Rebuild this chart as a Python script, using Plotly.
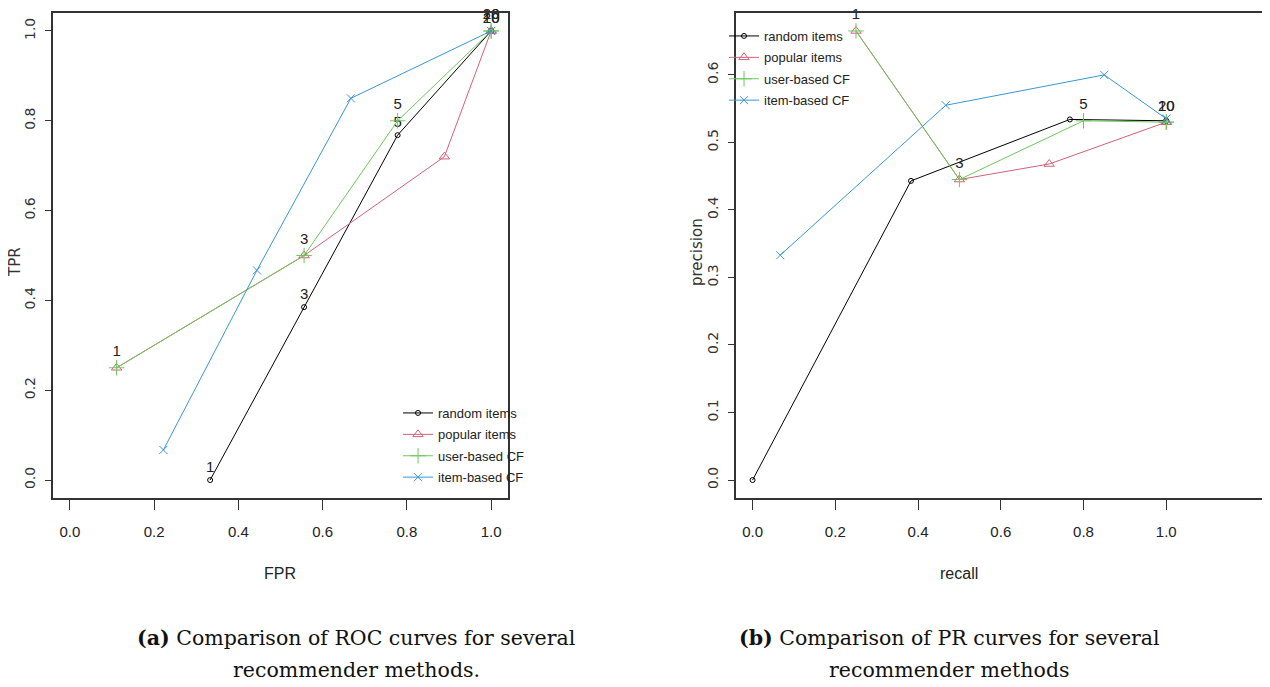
import plotly.graph_objects as go

# ---------------- data ----------------
series_names = ["random items", "popular items", "user-based CF", "item-based CF"]
n_labels = ["1", "3", "5", "10", "20"]

# ROC (left)
roc_random_fpr = [0.333, 0.556, 0.778, 1.0, 1.0]
roc_random_tpr = [0.0, 0.385, 0.768, 1.0, 1.0]
roc_popular_fpr = [0.111, 0.556, 0.889, 1.0, 1.0]
roc_popular_tpr = [0.25, 0.5, 0.72, 1.0, 1.0]
roc_user_fpr = [0.111, 0.556, 0.778, 1.0, 1.0]
roc_user_tpr = [0.25, 0.5, 0.8, 1.0, 1.0]
roc_item_fpr = [0.222, 0.444, 0.667, 1.0, 1.0]
roc_item_tpr = [0.067, 0.467, 0.85, 1.0, 1.0]

# PR (right)
pr_random_recall = [0.0, 0.383, 0.767, 1.0, 1.0]
pr_random_precision = [0.0, 0.443, 0.534, 0.532, 0.532]
pr_popular_recall = [0.25, 0.5, 0.717, 1.0, 1.0]
pr_popular_precision = [0.665, 0.445, 0.468, 0.53, 0.53]
pr_user_recall = [0.25, 0.5, 0.8, 1.0, 1.0]
pr_user_precision = [0.665, 0.445, 0.532, 0.53, 0.53]
pr_item_recall = [0.067, 0.467, 0.85, 1.0, 1.0]
pr_item_precision = [0.333, 0.555, 0.6, 0.535, 0.535]

x_ticks = [0.0, 0.2, 0.4, 0.6, 0.8, 1.0]
x_ticktext = ["0.0", "0.2", "0.4", "0.6", "0.8", "1.0"]
roc_y_ticks = [0.0, 0.2, 0.4, 0.6, 0.8, 1.0]
roc_y_ticktext = ["0.0", "0.2", "0.4", "0.6", "0.8", "1.0"]
pr_y_ticks = [0.0, 0.1, 0.2, 0.3, 0.4, 0.5, 0.6]
pr_y_ticktext = ["0.0", "0.1", "0.2", "0.3", "0.4", "0.5", "0.6"]

# ---------------- styles ----------------
OFF = 8  # default page body margin
W, H = 1262, 679


def px(x):
    return (x - OFF) / W


def py(y):
    return 1 - (y - OFF) / H


colors = ["#000000", "#D4607A", "#6CC85C", "#3A96D4"]
symbols = ["circle-open", "triangle-up-open", "cross-thin-open", "x-thin-open"]
msizes = [5, 9, 11, 8]
NARROW = "Liberation Sans"
WIDE = "DejaVu Sans"
SERIF = "DejaVu Serif"
FRAME = "#333333"

fig = go.Figure()

roc = [(roc_random_fpr, roc_random_tpr), (roc_popular_fpr, roc_popular_tpr),
       (roc_user_fpr, roc_user_tpr), (roc_item_fpr, roc_item_tpr)]
pr = [(pr_random_recall, pr_random_precision), (pr_popular_recall, pr_popular_precision),
      (pr_user_recall, pr_user_precision), (pr_item_recall, pr_item_precision)]

roc_annot = [True, False, True, False]
pr_annot = [False, False, True, False]

for i, (xs, ys) in enumerate(roc):
    fig.add_trace(go.Scatter(
        x=xs, y=ys, name=series_names[i], xaxis="x", yaxis="y",
        mode="lines+markers+text" if roc_annot[i] else "lines+markers",
        text=n_labels if roc_annot[i] else None, textposition="top center",
        textfont=dict(family=NARROW, size=15, color="#222222"),
        line=dict(color=colors[i], width=1),
        marker=dict(symbol=symbols[i], size=msizes[i], color=colors[i], line=dict(width=1, color=colors[i])),
        legend="legend", legendgroup="a%d" % i, cliponaxis=False,
    ))

for i, (xs, ys) in enumerate(pr):
    fig.add_trace(go.Scatter(
        x=xs, y=ys, name=series_names[i], xaxis="x2", yaxis="y2",
        mode="lines+markers+text" if pr_annot[i] else "lines+markers",
        text=n_labels if pr_annot[i] else None, textposition="top center",
        textfont=dict(family=NARROW, size=15, color="#222222"),
        line=dict(color=colors[i], width=1),
        marker=dict(symbol=symbols[i], size=msizes[i], color=colors[i], line=dict(width=1, color=colors[i])),
        legend="legend2", legendgroup="b%d" % i, cliponaxis=False,
    ))

ydom = [py(498), py(13)]
common_x = dict(showgrid=False, zeroline=False, showline=True, linecolor=FRAME, linewidth=1.5,
                mirror=True, ticks="outside", ticklen=10, tickwidth=1, tickcolor=FRAME,
                tickfont=dict(family=NARROW, size=15, color="#222222"),
                tickvals=x_ticks, ticktext=x_ticktext, ticklabelstandoff=9, fixedrange=True)
common_y = dict(showgrid=False, zeroline=False, showline=True, linecolor=FRAME, linewidth=1.5,
                ticks="outside", ticklen=6, tickwidth=1, tickcolor=FRAME, tickangle=-90,
                tickfont=dict(family=WIDE, size=14, color="#333333"), ticklabelstandoff=5,
                fixedrange=True)

fig.update_layout(
    width=W, height=H, margin=dict(l=0, r=0, t=0, b=0),
    paper_bgcolor="white", plot_bgcolor="white",
    xaxis=dict(domain=[px(53), px(508)], range=[-0.04, 1.04], anchor="y", **common_x),
    yaxis=dict(domain=ydom, range=[-0.04, 1.04], anchor="x", mirror=True,
               tickvals=roc_y_ticks, ticktext=roc_y_ticktext, **common_y),
    xaxis2=dict(domain=[px(736), 1.0], range=[-0.04, 1.2507], anchor="y2", **common_x),
    yaxis2=dict(domain=ydom, range=[-0.0266, 0.6916], anchor="x2", mirror=False,
                tickvals=pr_y_ticks, ticktext=pr_y_ticktext, **common_y),
    legend=dict(x=px(398), y=py(398), xanchor="left", yanchor="top", bgcolor="rgba(0,0,0,0)",
                font=dict(family=NARROW, size=13, color="#222222"), tracegroupgap=1.5,
                itemwidth=30, borderwidth=0),
    legend2=dict(x=px(724), y=py(21), xanchor="left", yanchor="top", bgcolor="rgba(0,0,0,0)",
                 font=dict(family=NARROW, size=13, color="#222222"), tracegroupgap=1.5,
                 itemwidth=30, borderwidth=0),
    showlegend=True,
)


def note(text, x, y, font, angle=0):
    return dict(text=text, x=px(x), y=py(y), xref="paper", yref="paper", showarrow=False,
                xanchor="center", yanchor="middle", textangle=angle, font=font)


ann = [
    note("FPR", 280, 573, dict(family=NARROW, size=16, color="#222222")),
    note("recall", 959, 573, dict(family=NARROW, size=16, color="#222222")),
    note("TPR", 15, 262, dict(family=WIDE, size=15, color="#333333"), -90),
    note("precision", 697, 252, dict(family=WIDE, size=15, color="#333333"), -90),
    note("<b>(a)</b> Comparison of ROC curves for several", 356, 638,
         dict(family=SERIF, size=20.5, color="#111111")),
    note("recommender methods.", 356, 670, dict(family=SERIF, size=20.5, color="#111111")),
    note("<b>(b)</b> Comparison of PR curves for several", 949, 638,
         dict(family=SERIF, size=20.5, color="#111111")),
    note("recommender methods", 949, 670, dict(family=SERIF, size=20.5, color="#111111")),
]
fig.update_layout(annotations=ann)

fig.write_html("out.html")
